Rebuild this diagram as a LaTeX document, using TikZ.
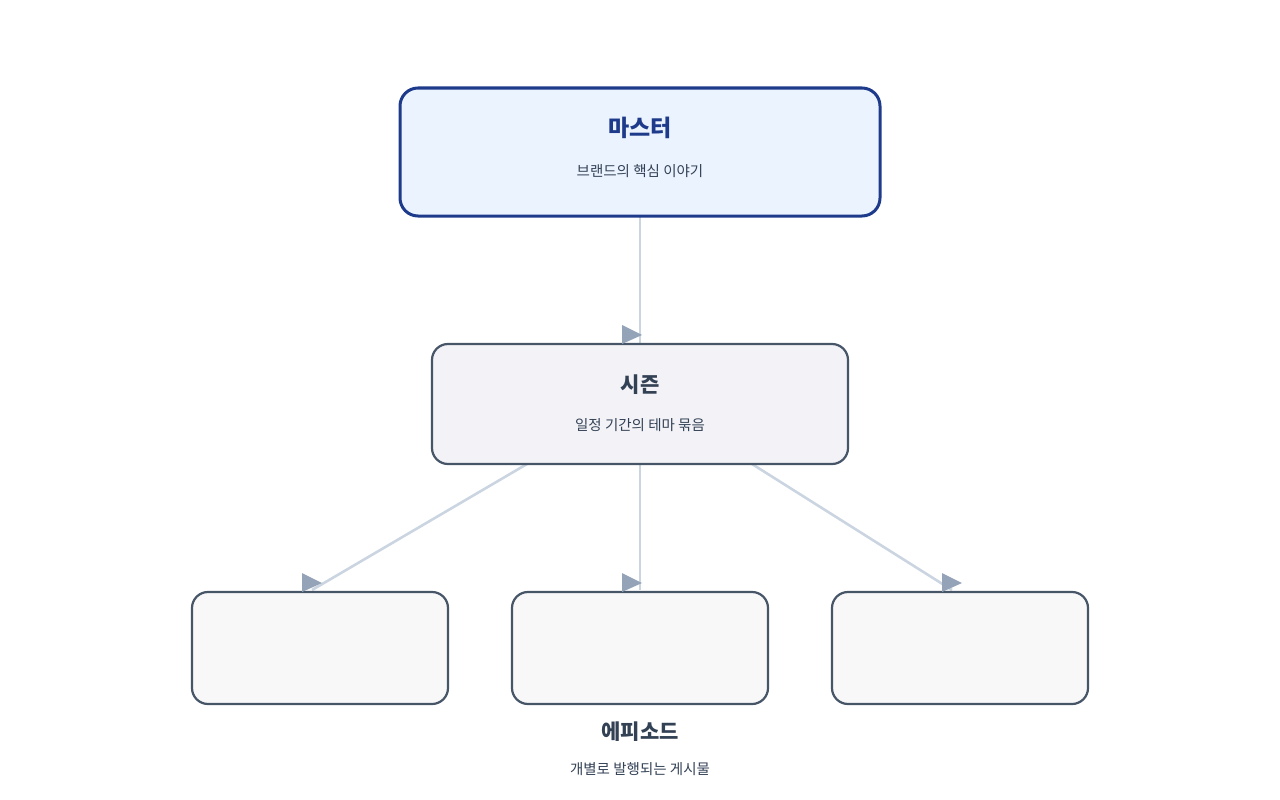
\documentclass[tikz,border=0pt]{standalone}
\usepackage{fontspec}
\setmainfont{Noto Sans CJK KR}
\begin{document}
\begin{tikzpicture}[x=1pt,y=-1pt,
  box/.style={draw=c475569,line width=2.2pt,rounded corners=16pt},
  edge/.style={draw=cCBD5E1,line width=2.6pt},
  head/.style={fill=c94A3B8},
  title/.style={font=\fontsize{21}{24}\selectfont\bfseries,text=c334155},
  sub/.style={font=\fontsize{14.5}{17}\selectfont,text=c334155}]
\definecolor{c475569}{HTML}{475569}
\definecolor{cCBD5E1}{HTML}{CBD5E1}
\definecolor{c94A3B8}{HTML}{94A3B8}
\definecolor{c334155}{HTML}{334155}
\definecolor{c1E3A8A}{HTML}{1E3A8A}
\useasboundingbox (0,0) rectangle (1280,800);
% edges
\coordinate (m) at (640,216); \coordinate (s) at (640,343);
\coordinate (s1) at (527,464); \coordinate (s2) at (640,464); \coordinate (s3) at (752,464);
\coordinate (e1) at (312,590); \coordinate (e2) at (640,590); \coordinate (e3) at (952,590);
\draw[edge] (m) -- (s);
\draw[edge] (s1) -- (e1);
\draw[edge] (s2) -- (e2);
\draw[edge] (s3) -- (e3);
% boxes
\draw[draw=c1E3A8A,line width=3pt,rounded corners=18pt,fill=blue!60!cyan!8] (400,88) rectangle (880,216);
\node[title,text=c1E3A8A,font=\fontsize{23}{26}\selectfont\bfseries] (mt) at (640,128) {마스터};
\node[sub] (ms) at (640,171) {브랜드의 핵심 이야기};
\draw[box,fill=blue!20!gray!8] (432,344) rectangle (848,464);
\node[title] (st) at (640,385) {시즌};
\node[sub] (ss) at (640,425) {일정 기간의 테마 묶음};
\draw[box,fill=c475569!4] (192,592) rectangle (448,704);
\draw[box,fill=c475569!4] (512,592) rectangle (768,704);
\draw[box,fill=c475569!4] (832,592) rectangle (1088,704);
\node[title] (et) at (640,732) {에피소드};
\node[sub] (es) at (640,769) {개별로 발행되는 게시물};
% arrowheads
\fill[head] (622,325) -- (642,335) -- (622,344) -- cycle;
\fill[head] (302,573) -- (322,583) -- (302,592) -- cycle;
\fill[head] (622,573) -- (642,583) -- (622,592) -- cycle;
\fill[head] (942,573) -- (962,583) -- (942,592) -- cycle;
\end{tikzpicture}
\end{document}
